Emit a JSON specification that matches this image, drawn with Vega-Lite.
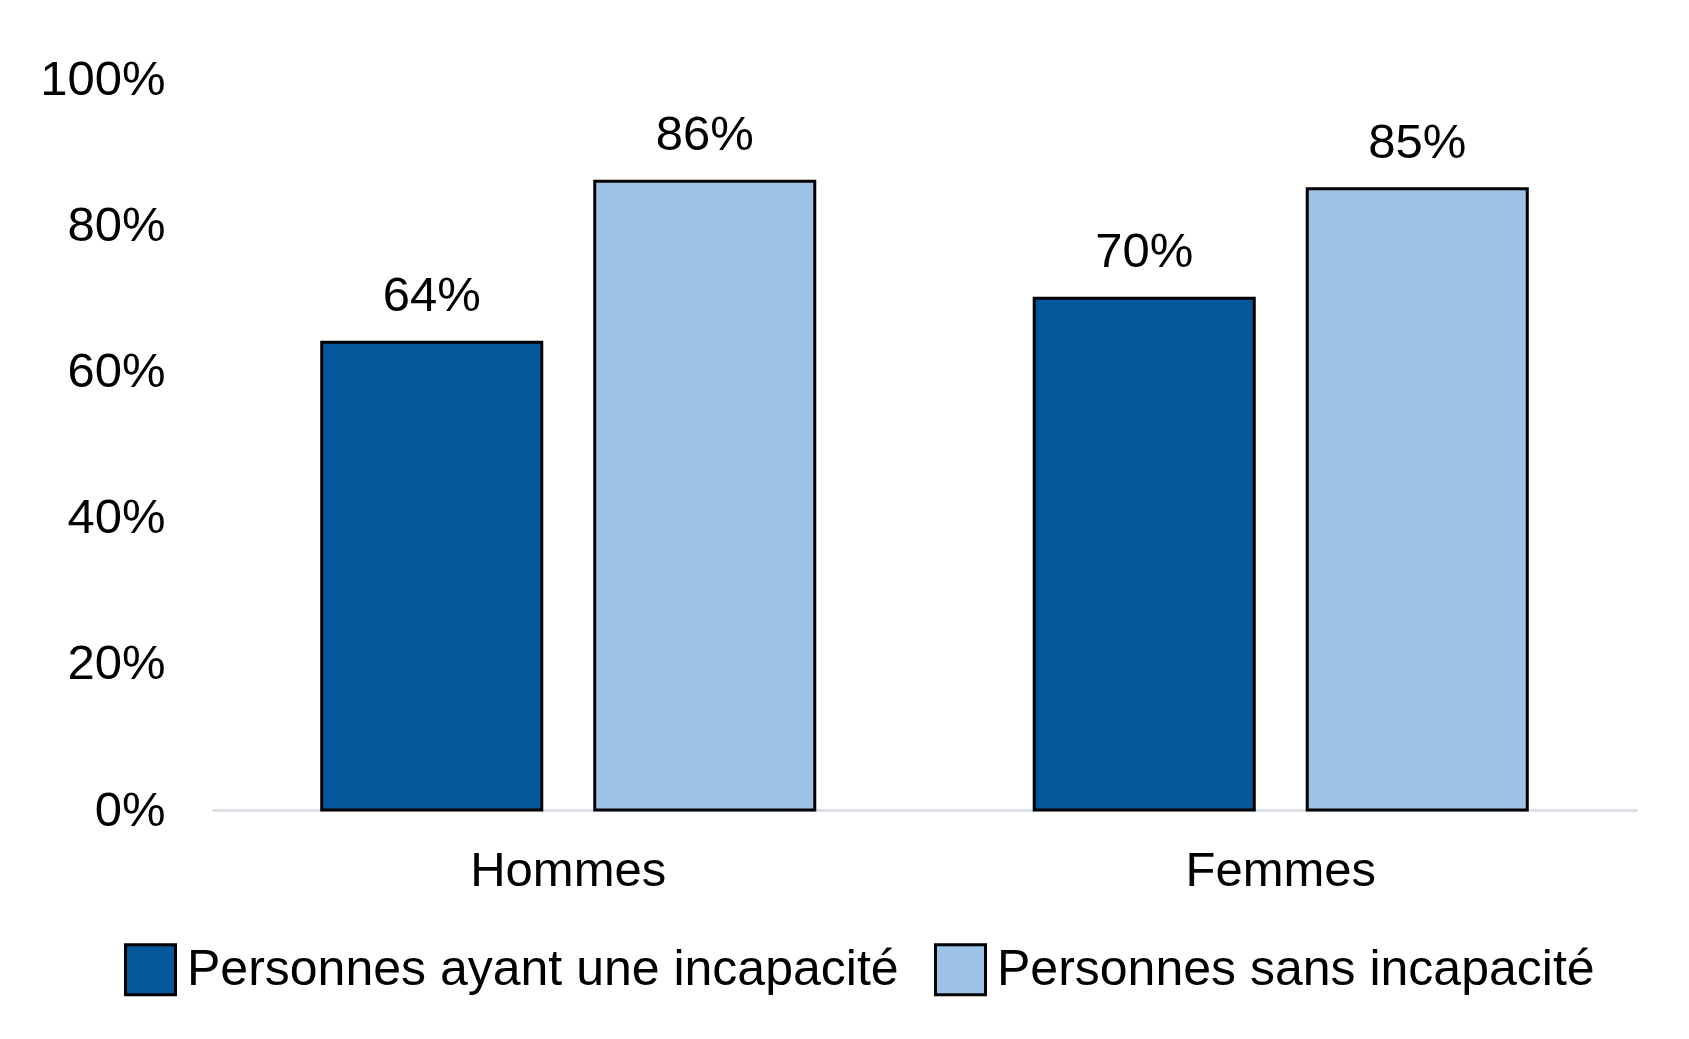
{
  "$schema": "https://vega.github.io/schema/vega-lite/v6.json",
  "width": 1425,
  "height": 731,
  "autosize": {"type": "none"},
  "padding": {"left": 212, "top": 79, "right": 52, "bottom": 229},
  "background": "white",
  "config": {
    "font": "Liberation Sans",
    "view": {"stroke": null},
    "axis": {"labelFont": "Liberation Sans", "labelColor": "#000000", "labelFontSize": 49, "title": null, "labelLimit": 1000}
  },
  "data": {
    "values": [
      {"groupe": "Hommes", "serie": "Personnes ayant une incapacité", "value": 64},
      {"groupe": "Hommes", "serie": "Personnes sans incapacité", "value": 86},
      {"groupe": "Femmes", "serie": "Personnes ayant une incapacité", "value": 70},
      {"groupe": "Femmes", "serie": "Personnes sans incapacité", "value": 85}
    ]
  },
  "transform": [{"calculate": "datum.value + '%'", "as": "label"}],
  "encoding": {
    "x": {
      "field": "groupe", "type": "nominal", "sort": ["Hommes", "Femmes"],
      "scale": {"paddingInner": 0.308, "paddingOuter": 0.154},
      "axis": {"labelAngle": 0, "ticks": false, "domainColor": "#DCE1E7", "domainWidth": 3, "labelPadding": 60, "labelBaseline": "middle", "labelFontSize": 49, "labelLimit": 1000}
    },
    "xOffset": {
      "field": "serie", "type": "nominal",
      "sort": ["Personnes ayant une incapacité", "Personnes sans incapacité"],
      "scale": {"paddingInner": 0.194, "paddingOuter": 0}
    },
    "y": {
      "field": "value", "type": "quantitative",
      "scale": {"domain": [0, 100]},
      "axis": {"values": [0, 20, 40, 60, 80, 100], "labelExpr": "datum.value + '%'", "domain": false, "ticks": false, "grid": false, "labelPadding": 47, "labelFontSize": 49}
    }
  },
  "layer": [
    {
      "mark": {"type": "bar", "stroke": "#000000", "strokeWidth": 3},
      "encoding": {
        "color": {
          "field": "serie", "type": "nominal",
          "sort": ["Personnes ayant une incapacité", "Personnes sans incapacité"],
          "scale": {"range": ["#04579A", "#9DC3E6"]},
          "legend": {
            "title": null, "orient": "none", "direction": "horizontal",
            "legendX": -88, "legendY": 864,
            "symbolType": "square", "symbolSize": 2500, "symbolStrokeColor": "#000000", "symbolStrokeWidth": 3, "symbolOpacity": 1,
            "labelFontSize": 50, "labelColor": "#000000", "labelFont": "Liberation Sans", "labelOffset": 10, "columnPadding": 30, "labelLimit": 1000
          }
        }
      }
    },
    {
      "mark": {"type": "text", "fontSize": 49, "baseline": "alphabetic", "dy": -31, "color": "#000000", "font": "Liberation Sans"},
      "encoding": {"text": {"field": "label"}}
    }
  ]
}
